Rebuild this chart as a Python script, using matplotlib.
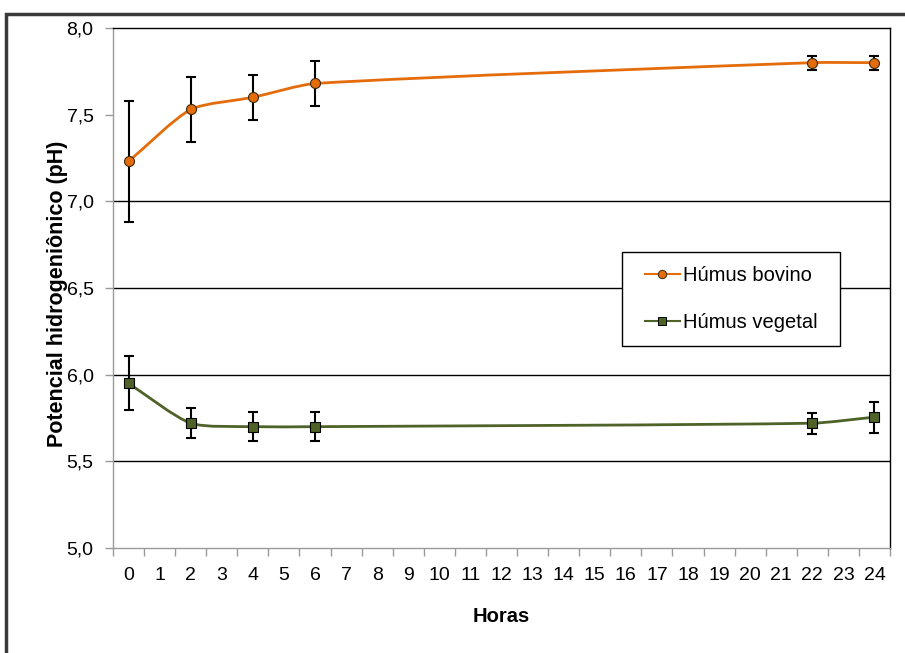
import matplotlib
matplotlib.use("Agg")
import matplotlib.pyplot as plt
from matplotlib.path import Path
from matplotlib.patches import PathPatch, Rectangle
from matplotlib.lines import Line2D
import numpy as np

plt.rcParams['font.family'] = ['Liberation Sans', 'DejaVu Sans']

# hours sampled and pH readings (mean, +/- deviation)
horas = [0, 2, 4, 6, 22, 24]
bovino = [7.23, 7.53, 7.60, 7.68, 7.80, 7.80]
bovino_err = [0.35, 0.19, 0.13, 0.13, 0.04, 0.04]
vegetal = [5.95, 5.72, 5.70, 5.70, 5.72, 5.755]
vegetal_err = [0.155, 0.085, 0.085, 0.085, 0.06, 0.09]

categorias = list(range(0, 25))
yticks = [5.0, 5.5, 6.0, 6.5, 7.0, 7.5, 8.0]

laranja = '#E46C0A'
verde = '#4F6228'


def smooth_path(x, y, sx, sy, t=0.22):
    # Bezier curve through the points; handles are sized by segment length
    # in screen units so uneven spacing doesn't overshoot
    pts = np.column_stack([np.asarray(x, float) * sx, np.asarray(y, float) * sy])
    n = len(pts)
    tang = []
    for i in range(n):
        a = pts[max(i - 1, 0)]
        b = pts[min(i + 1, n - 1)]
        d = b - a
        tang.append(d / np.hypot(*d))
    verts = [pts[0]]
    codes = [Path.MOVETO]
    for i in range(n - 1):
        seg = np.hypot(*(pts[i + 1] - pts[i]))
        c1 = pts[i] + tang[i] * seg * t
        c2 = pts[i + 1] - tang[i + 1] * seg * t
        verts += [c1, c2, pts[i + 1]]
        codes += [Path.CURVE4] * 3
    verts = np.array(verts) / [sx, sy]
    return Path(verts, codes)


W, H = 905, 653
fig = plt.figure(figsize=(W / 100, H / 100), dpi=100)
ax = fig.add_axes([113 / W, 105 / H, 777 / W, 520 / H])
ax.set_xlim(-0.5, 24.5)
ax.set_ylim(5.0, 8.0)
sx = 777 / 25.0
sy = 520 / 3.0

# chart frame (top and left edges visible)
fig.patches.append(Rectangle((6 / W, -0.2), 1.2, 1 - 14 / H + 0.2,
                             transform=fig.transFigure, fill=False,
                             edgecolor='#3a3a3a', linewidth=2.5))

for yv in [5.5, 6.0, 6.5, 7.0]:
    ax.axhline(yv, color='black', linewidth=1.0, zorder=1)

for ys, err, cor, mk, ms, borda in [
        (bovino, bovino_err, laranja, 'o', 7.2, '#3b2a10'),
        (vegetal, vegetal_err, verde, 's', 7.5, 'black')]:
    ax.add_patch(PathPatch(smooth_path(horas, ys, sx, sy), facecolor='none',
                           edgecolor=cor, linewidth=2.0, zorder=3))
    ax.errorbar(horas, ys, yerr=err, fmt='none', ecolor='black',
                elinewidth=1.5, capsize=3.6, capthick=1.5, zorder=4)
    ax.plot(horas, ys, linestyle='none', marker=mk, markersize=ms,
            markerfacecolor=cor, markeredgecolor=borda,
            markeredgewidth=0.8, zorder=5)

ax.set_xticks(np.arange(-0.5, 25, 1.0))
ax.set_xticklabels([])
ax.set_xticks(categorias, minor=True)
ax.set_xticklabels([str(c) for c in categorias], minor=True, fontsize=14)
ax.tick_params(axis='x', which='major', length=6, color='#9a9a9a', width=1)
ax.tick_params(axis='x', which='minor', length=0, pad=14)

ax.set_yticks(yticks)
ax.set_yticklabels([f'{v:.1f}'.replace('.', ',') for v in yticks], fontsize=14)
ax.tick_params(axis='y', length=6, color='#9a9a9a', width=1, pad=8)

ax.spines['left'].set_color('#9a9a9a')
ax.spines['bottom'].set_color('#9a9a9a')
ax.spines['top'].set_color('black')
ax.spines['right'].set_color('black')
for s in ax.spines.values():
    s.set_linewidth(1.0)

fig.text(58 / W, 1 - 294 / H, 'Potencial hidrogeniônico (pH)', rotation=90,
         ha='center', va='center', fontsize=15.5, fontweight='bold')
fig.text(501 / W, 1 - 617 / H, 'Horas', ha='center', va='center',
         fontsize=14.5, fontweight='bold')

# legend box drawn separately so the padding can be wider than tall
fig.patches.append(Rectangle((622 / W, 1 - 346 / H), 218 / W, 94 / H,
                             transform=fig.transFigure, facecolor='white',
                             edgecolor='black', linewidth=1.0, zorder=6))
handles = [
    Line2D([], [], color=laranja, linewidth=1.5, marker='o', markersize=6,
           markerfacecolor=laranja, markeredgecolor='#3b2a10', markeredgewidth=0.7),
    Line2D([], [], color=verde, linewidth=1.5, marker='s', markersize=6,
           markerfacecolor=verde, markeredgecolor='black', markeredgewidth=0.7),
]
leg = fig.legend(handles, ['Húmus bovino', 'Húmus vegetal'], loc='center',
                 bbox_to_anchor=(731 / W, 1 - 299 / H),
                 frameon=False, fontsize=14.5, handlelength=1.75,
                 handletextpad=0.15, labelspacing=1.4, borderpad=0,
                 borderaxespad=0)
leg.set_zorder(7)

fig.savefig('out.png', dpi=100)
